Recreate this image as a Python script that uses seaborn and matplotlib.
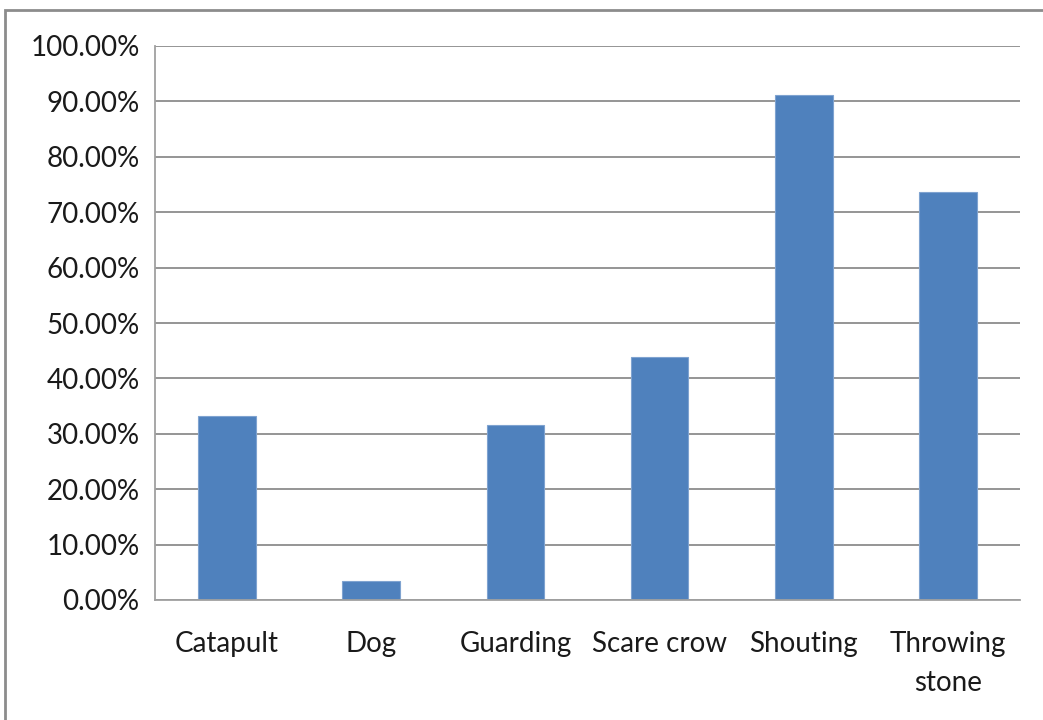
import matplotlib
matplotlib.use("Agg")
import matplotlib.pyplot as plt
import matplotlib.patches as mpatches
from matplotlib.ticker import FuncFormatter, MultipleLocator
import seaborn as sns
import pandas as pd

# Share of respondents using each bird-scaring method
methods = ["Catapult", "Dog", "Guarding", "Scare crow", "Shouting", "Throwing\nstone"]
shares = [33.3, 3.5, 31.6, 43.9, 91.2, 73.6]

df = pd.DataFrame({"method": methods, "share": shares})

sns.set_style("white")
plt.rcParams["font.family"] = ["Lato", "DejaVu Sans"]

fig = plt.figure(figsize=(10.43, 7.2), dpi=100)
ax = fig.add_axes([155 / 1043, 1 - 600 / 720, (1020 - 155) / 1043, (600 - 46) / 720])

sns.barplot(data=df, x="method", y="share", color="#4F81BD", width=0.4,
            edgecolor="#7FA3D0", linewidth=0.8, saturation=1, ax=ax)

grid_col = "#8C8C8C"
ax.set_ylim(0, 100)
ax.set_xlim(-0.5, len(methods) - 0.5)
ax.yaxis.set_major_locator(MultipleLocator(10))
ax.yaxis.set_major_formatter(FuncFormatter(lambda v, _: f"{v:.2f}%"))
ax.set_axisbelow(True)
ax.yaxis.grid(True, color=grid_col, linewidth=1.3)
ax.xaxis.grid(False)

for side in ["top", "right"]:
    ax.spines[side].set_visible(False)
for side in ["left", "bottom"]:
    ax.spines[side].set_color("#A0A0A0")
    ax.spines[side].set_linewidth(1.3)

# Category ticks sit on the boundaries between bars
ax.set_xticks([i - 0.5 for i in range(len(methods) + 1)], minor=True)
ax.tick_params(axis="x", which="minor", length=6, width=1.3, color="#A0A0A0", direction="out")
ax.tick_params(axis="x", which="major", length=0, pad=22, labelsize=20, labelcolor="#1A1A1A")
ax.tick_params(axis="y", length=6, width=1.3, color="#A0A0A0", direction="out", pad=5,
               labelsize=20, labelcolor="#1A1A1A")
for lbl in ax.get_xticklabels():
    lbl.set_linespacing(1.65)
ax.set_xlabel("")
ax.set_ylabel("")

# Chart frame
fig.patches.append(mpatches.Rectangle((5 / 1043, -0.1), 1.2, 1 - 10 / 720 + 0.1,
                                      transform=fig.transFigure, fill=False,
                                      edgecolor="#8C8C8C", linewidth=2))

fig.savefig("out.png", dpi=100)
